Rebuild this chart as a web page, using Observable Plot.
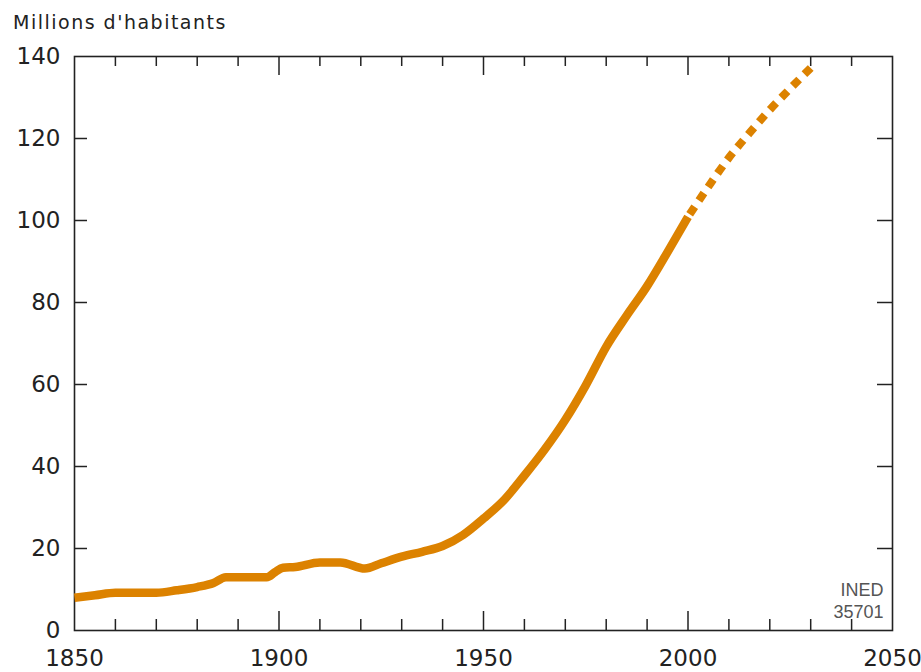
<!DOCTYPE html>
<html>
<head>
<meta charset="utf-8">
<script src="https://cdn.jsdelivr.net/npm/d3@7"></script>
<script src="https://cdn.jsdelivr.net/npm/@observablehq/plot@0.6"></script>
<style>
  html, body { margin: 0; padding: 0; background: #fff; }
  #title {
    font-family: "DejaVu Sans", sans-serif;
    font-size: 19px;
    letter-spacing: 1.5px;
    color: #222;
    height: 44px;
    line-height: 44px;
    padding-left: 13px;
    white-space: nowrap;
  }
</style>
</head>
<body>
<div id="title">Millions d'habitants</div>
<div id="chart"></div>
<script>
// Observed population (millions)
const obsYears = [1850,1855,1860,1870,1875,1880,1884,1887,1897,1899,1901,1904,1910,1915,1921,1925,1930,1935,1940,1945,1950,1955,1960,1965,1970,1975,1980,1985,1990,1995,2000];
const obsValues = [8.0,8.6,9.2,9.2,9.8,10.6,11.6,13.0,13.0,14.2,15.3,15.5,16.6,16.6,15.1,16.4,18.0,19.2,20.6,23.3,27.3,31.8,37.8,44.2,51.4,59.8,69.2,76.8,84.0,92.3,100.9];
// Projection (dotted)
const projYears = [2000,2005,2010,2015,2020,2025,2030];
const projValues = [100.9,108.3,115.3,121.3,127.0,132.2,137.2];
// Axis ticks and labels
const xLabels = [1850,1900,1950,2000,2050];
const xMinorTicks = [1860,1870,1880,1890,1910,1920,1930,1940,1960,1970,1980,1990,2010,2020,2030,2040];
const xMajorTicks = [1900,1950,2000];
const yLabels = [0,20,40,60,80,100,120,140];
const yTicks = [20,40,60,80,100,120];
const sourceLines = ["INED","35701"];

const observed = obsYears.map((y, i) => ({year: y, value: obsValues[i]}));
const projection = projYears.map((y, i) => ({year: y, value: projValues[i]}));

const W = 921, H = 628;
const mT = 12, mB = 42, mL = 74, mR = 29;
const plotH = H - mT - mB;
const plotW = W - mL - mR;
const orange = "#dc8200";
const ink = "#222";

const chart = Plot.plot({
  width: W,
  height: H,
  marginTop: mT,
  marginBottom: mB,
  marginLeft: mL,
  marginRight: mR,
  style: {fontFamily: "DejaVu Sans, sans-serif", fontSize: "23px", color: ink, background: "#fff", overflow: "visible"},
  x: {domain: [1850, 2050]},
  y: {domain: [0, 140]},
  marks: [
    Plot.frame({stroke: ink, strokeWidth: 1.6}),
    // bottom ticks
    Plot.ruleX(xMinorTicks, {x: d => d, insetTop: plotH - 11, stroke: ink, strokeWidth: 1.5}),
    Plot.ruleX(xMajorTicks, {x: d => d, insetTop: plotH - 19, stroke: ink, strokeWidth: 1.5}),
    // top ticks
    Plot.ruleX(xMinorTicks, {x: d => d, insetBottom: plotH - 10, stroke: ink, strokeWidth: 1.5}),
    Plot.ruleX(xMajorTicks, {x: d => d, insetBottom: plotH - 19, stroke: ink, strokeWidth: 1.5}),
    // left / right ticks
    Plot.ruleY(yTicks, {y: d => d, insetRight: plotW - 13, stroke: ink, strokeWidth: 1.5}),
    Plot.ruleY(yTicks, {y: d => d, insetLeft: plotW - 15, stroke: ink, strokeWidth: 1.5}),
    Plot.axisX({ticks: xLabels, tickSize: 0, tickPadding: 19, tickFormat: d => String(d), label: null, fill: ink}),
    Plot.axisY({ticks: yLabels, tickSize: 0, tickPadding: 14, tickFormat: d => String(d), label: null, fill: ink}),
    Plot.line(observed, {x: "year", y: "value", curve: "monotone-x", stroke: orange, strokeWidth: 8.5, strokeLinejoin: "round", strokeLinecap: "butt"}),
    Plot.line(projection, {x: "year", y: "value", curve: "monotone-x", stroke: orange, strokeWidth: 8, strokeDasharray: "9,7.5", strokeDashoffset: -3, strokeLinecap: "butt"}),
    Plot.text([sourceLines.join("\n")], {
      text: d => d,
      frameAnchor: "bottom-right",
      textAnchor: "end",
      lineAnchor: "bottom",
      dx: -9,
      dy: -13,
      lineHeight: 1.17,
      fontSize: 18,
      fontFamily: "Liberation Sans Narrow, Arial Narrow, sans-serif",
      fill: "#555"
    })
  ]
});
document.getElementById("chart").appendChild(chart);
</script>
</body>
</html>
